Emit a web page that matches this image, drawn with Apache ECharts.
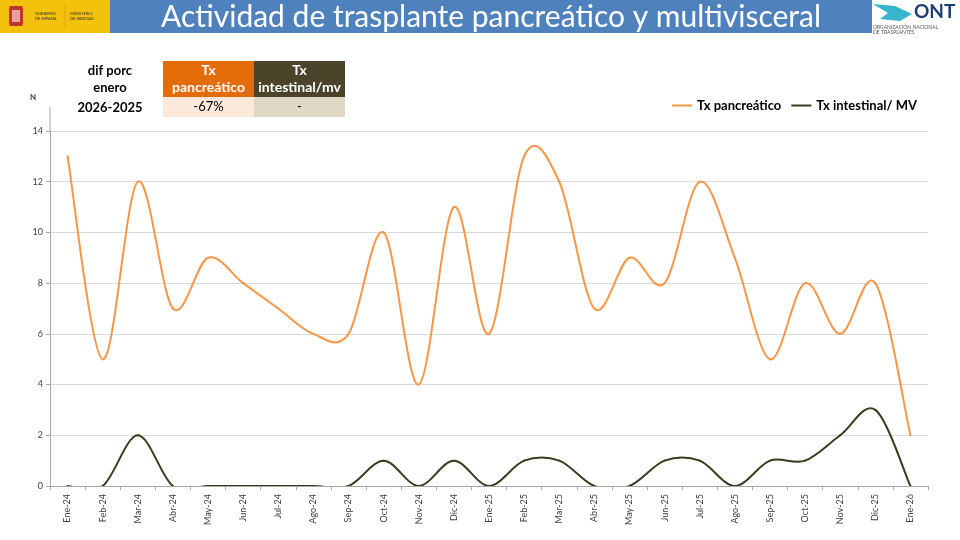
<!DOCTYPE html>
<html>
<head>
<meta charset="utf-8">
<script src="https://cdn.jsdelivr.net/npm/echarts@6/dist/echarts.min.js"></script>
<style>
html,body{margin:0;padding:0;background:#fff;}
#chart{width:960px;height:540px;}
</style>
</head>
<body>
<div id="chart"></div>
<script>
var categories = ['Ene-24','Feb-24','Mar-24','Abr-24','May-24','Jun-24','Jul-24','Ago-24','Sep-24','Oct-24','Nov-24','Dic-24',
  'Ene-25','Feb-25','Mar-25','Abr-25','May-25','Jun-25','Jul-25','Ago-25','Sep-25','Oct-25','Nov-25','Dic-25','Ene-26'];
var txPancreatico = [13,5,12,7,9,8,7,6,6,10,4,11,6,13,12,7,9,8,12,9,5,8,6,8,2];
var txIntestinal = [0,0,2,0,0,0,0,0,0,1,0,1,0,1,1,0,0,1,1,0,1,1,2,3,0];
var seriesNames = ['Tx pancreático','Tx intestinal/ MV'];
var yTicks = {min:0, max:14, interval:2};
var tableRowLabel = ['dif porc', 'enero', '2026-2025'];
var tableHeaders = ['Tx\npancreático','Tx\nintestinal/mv'];
var tableValues = ['-67%','-'];
var titleText = 'Actividad de trasplante pancreático y multivisceral';

var orange = '#F79646';
var dark = '#3D3A20';
var font = 'Lato, "Liberation Sans", sans-serif';

// Excel-like smoothed line (Catmull-Rom segments), positioned through the chart's own scales
function smoothSeries(name, values, color) {
  return {
    name: name, type: 'custom', clip: true,
    data: values.map(function (v, i) { return [i, v]; }),
    encode: {x: 0, y: 1},
    itemStyle: {color: color},
    renderItem: function (params, api) {
      var i = params.dataIndex;
      var n = values.length;
      if (i >= n - 1) return null;
      function pt(k) {
        k = Math.max(0, Math.min(n - 1, k));
        return api.coord([k, values[k]]);
      }
      var p0 = pt(i - 1), p1 = pt(i), p2 = pt(i + 1), p3 = pt(i + 2);
      var t = 1 / 6;
      var cs = params.coordSys;
      return {
        type: 'bezierCurve',
        shape: {
          x1: p1[0], y1: p1[1], x2: p2[0], y2: p2[1],
          cpx1: p1[0] + (p2[0] - p0[0]) * t, cpy1: p1[1] + (p2[1] - p0[1]) * t,
          cpx2: p2[0] - (p3[0] - p1[0]) * t, cpy2: p2[1] - (p3[1] - p1[1]) * t
        },
        style: {stroke: color, lineWidth: 2, fill: null, lineCap: 'round'},
        clipPath: {type: 'rect', shape: {x: cs.x, y: cs.y, width: cs.width, height: cs.height}}
      };
    }
  };
}

var chart = echarts.init(document.getElementById('chart'));
var option = {
  backgroundColor: '#ffffff',
  animation: false,
  grid: {left: 50, right: 32, top: 131, bottom: 54, containLabel: false},
  legend: {
    right: 38, top: 94, itemWidth: 20, itemHeight: 2, itemGap: 10,
    icon: 'rect',
    textStyle: {fontFamily: font, fontSize: 13, fontWeight: 'bold', color: '#000'},
    data: seriesNames
  },
  xAxis: {
    type: 'category', data: categories, boundaryGap: true,
    axisLine: {lineStyle: {color: '#A6A6A6'}},
    axisTick: {show: true, length: 4, lineStyle: {color: '#A6A6A6'}},
    axisLabel: {rotate: 90, fontFamily: font, fontSize: 9, color: '#404040', margin: 8, interval: 0}
  },
  yAxis: {
    type: 'value', min: yTicks.min, max: yTicks.max, interval: yTicks.interval,
    axisLine: {show: true, lineStyle: {color: '#A6A6A6'}},
    axisTick: {show: true, length: 4, lineStyle: {color: '#A6A6A6'}},
    axisLabel: {fontFamily: font, fontSize: 9, color: '#404040', margin: 7},
    splitLine: {lineStyle: {color: '#D9D9D9'}}
  },
  series: [
    smoothSeries(seriesNames[0], txPancreatico, orange),
    smoothSeries(seriesNames[1], txIntestinal, dark)
  ],
  graphic: [
    // header bar
    {type: 'rect', shape: {x: 0, y: 0, width: 110, height: 33}, style: {fill: '#F4C20D'}},
    {type: 'rect', shape: {x: 110, y: 0, width: 762, height: 33}, style: {fill: '#4F81BD'}},
    {type: 'text', style: {x: 491, y: 17, text: titleText, fill: '#fff', font: '30px ' + font, textAlign: 'center', textVerticalAlign: 'middle'}},
    // Spanish gov emblem approximation
    {type: 'rect', shape: {x: 9, y: 6, width: 14, height: 20, r: 2}, style: {fill: '#C0392B'}},
    {type: 'rect', shape: {x: 12, y: 10, width: 8, height: 12}, style: {fill: '#E8A0A0'}},
    {type: 'text', style: {x: 35, y: 16, text: 'GOBIERNO\nDE ESPAÑA', fill: '#333', font: '4px ' + font, textVerticalAlign: 'middle', lineHeight: 5}},
    {type: 'text', style: {x: 70, y: 16, text: 'MINISTERIO\nDE SANIDAD', fill: '#333', font: '4px ' + font, textVerticalAlign: 'middle', lineHeight: 5}},
    {type: 'line', shape: {x1: 65, y1: 4, x2: 65, y2: 29}, style: {stroke: '#E0B000', lineWidth: 1}},
    // ONT logo approximation
    {type: 'polygon', shape: {points: [[873,4],[895,6],[912,14],[900,21],[880,19],[888,13]]}, style: {fill: '#35B6CC'}},
    {type: 'text', style: {x: 914, y: 12, text: 'ONT', fill: '#1D3F73', font: 'bold 19px ' + font, textVerticalAlign: 'middle'}},
    {type: 'text', style: {x: 873, y: 25, text: 'ORGANIZACIÓN NACIONAL\nDE TRASPLANTES', fill: '#555', font: '5px ' + font, lineHeight: 5}},
    // N label
    {type: 'text', style: {x: 33, y: 97, text: 'N', fill: '#404040', font: 'bold 8px ' + font, textAlign: 'center', textVerticalAlign: 'middle'}},
    // y axis extension
    {type: 'line', shape: {x1: 50, y1: 107, x2: 50, y2: 131}, style: {stroke: '#A6A6A6', lineWidth: 1}},
    // table
    {type: 'text', style: {x: 110, y: 79, text: tableRowLabel[0] + '\n' + tableRowLabel[1], fill: '#000', font: 'bold 13px ' + font, textAlign: 'center', textVerticalAlign: 'middle', lineHeight: 17}},
    {type: 'text', style: {x: 110, y: 108, text: tableRowLabel[2], fill: '#000', font: 'bold 13px ' + font, textAlign: 'center', textVerticalAlign: 'middle'}},
    {type: 'rect', shape: {x: 163, y: 61, width: 91, height: 36}, style: {fill: '#E36C09'}},
    {type: 'rect', shape: {x: 254, y: 61, width: 91, height: 36}, style: {fill: '#4A452A'}},
    {type: 'rect', shape: {x: 163, y: 97, width: 91, height: 20}, style: {fill: '#FDE9D9'}},
    {type: 'rect', shape: {x: 254, y: 97, width: 91, height: 20}, style: {fill: '#DDD9C4'}},
    {type: 'text', style: {x: 208.5, y: 79, text: tableHeaders[0], fill: '#fff', font: 'bold 14px ' + font, textAlign: 'center', textVerticalAlign: 'middle', lineHeight: 17}},
    {type: 'text', style: {x: 299.5, y: 79, text: tableHeaders[1], fill: '#fff', font: 'bold 14px ' + font, textAlign: 'center', textVerticalAlign: 'middle', lineHeight: 17}},
    {type: 'text', style: {x: 208.5, y: 107, text: tableValues[0], fill: '#000', font: '13px ' + font, textAlign: 'center', textVerticalAlign: 'middle'}},
    {type: 'text', style: {x: 299.5, y: 107, text: tableValues[1], fill: '#000', font: '13px ' + font, textAlign: 'center', textVerticalAlign: 'middle'}}
  ]
};
chart.setOption(option);
</script>
</body>
</html>
